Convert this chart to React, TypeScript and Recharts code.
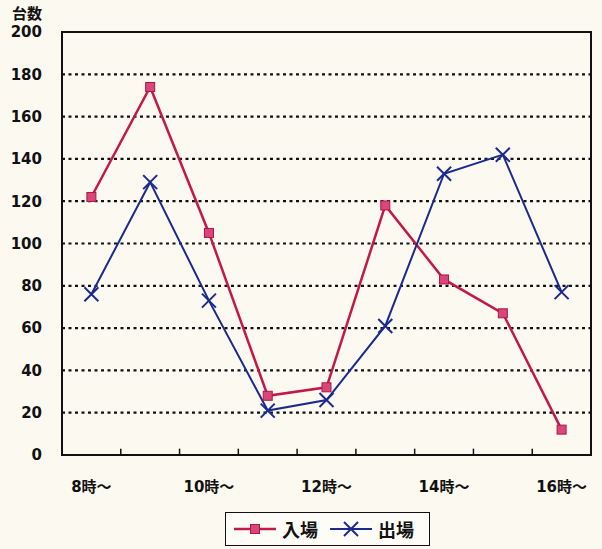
import React from 'react';
import { ComposedChart, Line, XAxis, YAxis, CartesianGrid, ReferenceLine } from 'recharts';

const hours = ['8時～', '9時～', '10時～', '11時～', '12時～', '13時～', '14時～', '15時～', '16時～'];
const nyujo = [122, 174, 105, 28, 32, 118, 83, 67, 12];
const shutsujo = [76, 129, 73, 21, 26, 61, 133, 142, 77];
const yTicks = [0, 20, 40, 60, 80, 100, 120, 140, 160, 180, 200];
const gridTicks = [20, 40, 60, 80, 100, 120, 140, 160, 180];
const labelTicks = [0, 2, 4, 6, 8];
const boundaryTicks = [0.5, 1.5, 2.5, 3.5, 4.5, 5.5, 6.5, 7.5];

const RED = '#c3184a';
const BLUE = '#1b2a8c';
const BG = '#fbf9f0';

// plot box (matches chart margins below)
const PLOT = { left: 62, top: 32, width: 529, height: 423 };

const data = hours.map((h, i) => ({ i, h, nyujo: nyujo[i], shutsujo: shutsujo[i] }));

const SquareDot = (props: any) => {
  const { cx, cy } = props;
  if (cx == null || cy == null) return null;
  return <rect x={cx - 4.5} y={cy - 4.5} width={9} height={9} fill="#d8467b" stroke="#b01642" strokeWidth={1} />;
};

const CrossDot = (props: any) => {
  const { cx, cy } = props;
  if (cx == null || cy == null) return null;
  const s = 7;
  return (
    <g stroke={BLUE} strokeWidth={2}>
      <line x1={cx - s} y1={cy - s} x2={cx + s} y2={cy + s} />
      <line x1={cx - s} y1={cy + s} x2={cx + s} y2={cy - s} />
    </g>
  );
};

const tickFont = { fontFamily: '"DejaVu Sans", "Noto Sans CJK JP", sans-serif', fontWeight: 700, fill: '#111' };

const LegendBox = () => (
  <div
    style={{
      position: 'absolute',
      left: 225,
      top: 512,
      width: 203,
      height: 32,
      border: '1.5px solid #111',
      background: '#fdfcf7',
      display: 'flex',
      alignItems: 'center',
      fontFamily: '"Noto Sans CJK JP", sans-serif',
      fontWeight: 700,
      fontSize: 18,
      color: '#111',
    }}
  >
    <svg width={46} height={20} style={{ marginLeft: 6 }}>
      <line x1={2} y1={10} x2={44} y2={10} stroke={RED} strokeWidth={2.5} />
      <rect x={18.5} y={5.5} width={9} height={9} fill="#d8467b" stroke="#b01642" />
    </svg>
    <span style={{ marginLeft: 4 }}>入場</span>
    <svg width={46} height={20} style={{ marginLeft: 10 }}>
      <line x1={2} y1={10} x2={44} y2={10} stroke={BLUE} strokeWidth={2} />
      <line x1={16} y1={3} x2={30} y2={17} stroke={BLUE} strokeWidth={2} />
      <line x1={16} y1={17} x2={30} y2={3} stroke={BLUE} strokeWidth={2} />
    </svg>
    <span style={{ marginLeft: 4 }}>出場</span>
  </div>
);

export default function App() {
  return (
    <div style={{ position: 'absolute', left: 0, top: 0, width: 602, height: 549, background: BG }}>
      <ComposedChart
        width={602}
        height={549}
        data={data}
        margin={{ top: 32, right: 11, bottom: 64, left: 0 }}
      >
        <CartesianGrid
          vertical={false}
          horizontalValues={gridTicks}
          stroke="#111"
          strokeWidth={2.2}
          strokeDasharray="3 3.5"
        />
        <XAxis
          dataKey="i"
          type="number"
          domain={[-0.5, 8.5]}
          ticks={labelTicks}
          height={30}
          tickFormatter={(v: number) => hours[v]}
          tick={{ ...tickFont, fontSize: 15 }}
          tickLine={false}
          tickMargin={20}
          axisLine={false}
        />
        <YAxis
          width={62}
          domain={[0, 200]}
          ticks={yTicks}
          tick={{ ...tickFont, fontSize: 15 }}
          tickLine={false}
          axisLine={false}
          tickMargin={14}
        />
        {boundaryTicks.map((b) => (
          <ReferenceLine
            key={b}
            segment={[{ x: b, y: 0 }, { x: b, y: 3 }]}
            stroke="#111"
            strokeWidth={1.5}
            ifOverflow="visible"
          />
        ))}
        <Line
          dataKey="nyujo"
          stroke={RED}
          strokeWidth={2.5}
          dot={<SquareDot />}
          activeDot={false}
          isAnimationActive={false}
        />
        <Line
          dataKey="shutsujo"
          stroke={BLUE}
          strokeWidth={2}
          dot={<CrossDot />}
          activeDot={false}
          isAnimationActive={false}
        />
      </ComposedChart>
      {/* plot frame */}
      <div
        style={{
          position: 'absolute',
          left: PLOT.left - 1.25,
          top: PLOT.top - 1.25,
          width: PLOT.width + 2.5,
          height: PLOT.height + 2.5,
          border: '2.5px solid #111',
          boxSizing: 'border-box',
          pointerEvents: 'none',
        }}
      />
      <div
        style={{
          position: 'absolute',
          left: 12,
          top: 2,
          fontFamily: '"Noto Sans CJK JP", sans-serif',
          fontWeight: 700,
          fontSize: 15,
          color: '#111',
        }}
      >
        台数
      </div>
      <LegendBox />
    </div>
  );
}
